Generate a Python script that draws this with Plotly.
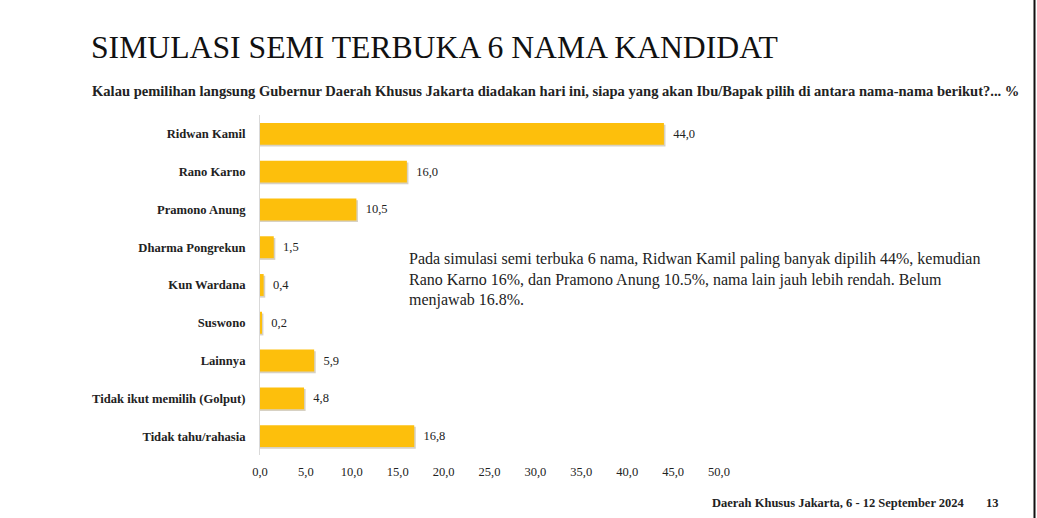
import plotly.graph_objects as go

categories = ["Ridwan Kamil", "Rano Karno", "Pramono Anung", "Dharma Pongrekun",
              "Kun Wardana", "Suswono", "Lainnya", "Tidak ikut memilih (Golput)",
              "Tidak tahu/rahasia"]
values = [44.0, 16.0, 10.5, 1.5, 0.4, 0.2, 5.9, 4.8, 16.8]
tick_vals = [0, 5, 10, 15, 20, 25, 30, 35, 40, 45, 50]
tick_text = ["0,0", "5,0", "10,0", "15,0", "20,0", "25,0", "30,0", "35,0", "40,0", "45,0", "50,0"]

title = "SIMULASI SEMI TERBUKA 6 NAMA KANDIDAT"
subtitle = ("Kalau pemilihan langsung Gubernur Daerah Khusus Jakarta diadakan hari ini, "
            "siapa yang akan Ibu/Bapak pilih di antara nama-nama berikut?... %")
note_lines = [
    "Pada simulasi semi terbuka 6 nama, Ridwan Kamil paling banyak dipilih 44%, kemudian",
    "Rano Karno 16%, dan Pramono Anung 10.5%, nama lain jauh lebih rendah. Belum",
    "menjawab 16.8%.",
]
footer = "Daerah Khusus Jakarta, 6 - 12 September 2024"
page = "13"

SERIF = "Liberation Serif"
W, H = 1037, 518
L, R, T, B = 260, 719, 115, 455


def px(x):
    return (x - L) / (R - L)


def py(y):
    return (B - y) / (B - T)


labels = ["  " + f"{v:.1f}".replace(".", ",") for v in values]
BAR_W = 0.58

fig = go.Figure()
# soft drop shadow under each bar
fig.add_trace(go.Bar(
    x=[v + 0.17 for v in values], y=categories, orientation="h",
    marker=dict(color="rgba(110,90,40,0.28)", line=dict(width=0)),
    width=BAR_W, offset=-BAR_W / 2 + 0.045, hoverinfo="skip",
))
fig.add_trace(go.Bar(
    x=values, y=categories, orientation="h",
    marker=dict(color="#FDBF0C", line=dict(width=0)),
    text=labels, textposition="outside", cliponaxis=False,
    textfont=dict(family=SERIF, size=12.5, color="#222222"),
    width=BAR_W, offset=-BAR_W / 2,
))

fig.update_layout(
    width=W, height=H,
    margin=dict(l=L, r=W - R, t=T, b=H - B, pad=0),
    paper_bgcolor="white", plot_bgcolor="white",
    showlegend=False, barmode="overlay",
    font=dict(family=SERIF),
    xaxis=dict(range=[0, 50], tickvals=tick_vals, ticktext=tick_text,
               showgrid=False, zeroline=False, showline=False,
               ticks="", ticklabelstandoff=7,
               tickfont=dict(family=SERIF, size=12.5, color="#222222")),
    yaxis=dict(autorange="reversed", showgrid=False, zeroline=False,
               showline=True, linecolor="#D9D9D9", linewidth=1,
               ticks="", ticklabelstandoff=11,
               tickfont=dict(family=SERIF, size=12.6, color="#222222", weight="bold")),
)

ann = []
ann.append(dict(text=title, x=px(89), y=py(47), xref="paper", yref="paper",
                xanchor="left", yanchor="middle", showarrow=False,
                font=dict(family=SERIF, size=31.7, color="#111111")))
ann.append(dict(text="<b>" + subtitle + "</b>", x=px(90), y=py(91), xref="paper", yref="paper",
                xanchor="left", yanchor="middle", showarrow=False,
                font=dict(family=SERIF, size=14.55, color="#222222")))
for i, line in enumerate(note_lines):
    ann.append(dict(text=line, x=px(407), y=py(259 + i * 20.5), xref="paper", yref="paper",
                    xanchor="left", yanchor="middle", showarrow=False,
                    font=dict(family=SERIF, size=16, color="#222222")))
ann.append(dict(text="<b>" + footer + "</b>", x=px(967), y=py(503), xref="paper", yref="paper",
                xanchor="right", yanchor="middle", showarrow=False,
                font=dict(family=SERIF, size=12.5, color="#222222")))
ann.append(dict(text="<b>" + page + "</b>", x=px(1001), y=py(503), xref="paper", yref="paper",
                xanchor="right", yanchor="middle", showarrow=False,
                font=dict(family=SERIF, size=12.5, color="#222222")))
fig.update_layout(annotations=ann)

fig.add_shape(type="line", xref="paper", yref="paper",
              x0=px(1034.5), x1=px(1034.5), y0=py(0), y1=py(518),
              line=dict(color="#111111", width=2))

fig.write_html("out.html")
